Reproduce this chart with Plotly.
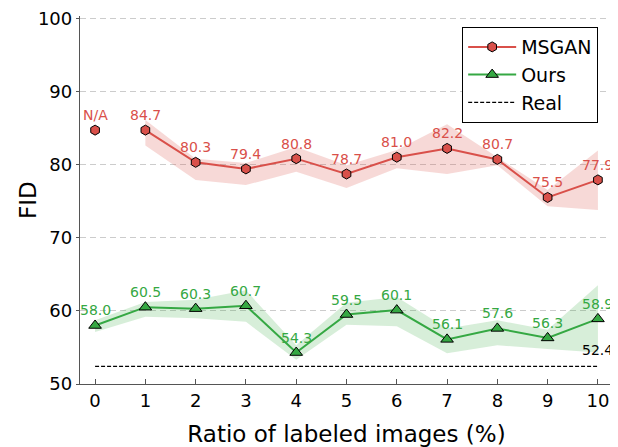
import plotly.graph_objects as go

ratios = [0, 1, 2, 3, 4, 5, 6, 7, 8, 9, 10]
msgan = [84.7, 84.7, 80.3, 79.4, 80.8, 78.7, 81.0, 82.2, 80.7, 75.5, 77.9]
msgan_labels = ["N/A", "84.7", "80.3", "79.4", "80.8", "78.7", "81.0", "82.2", "80.7", "75.5", "77.9"]
msgan_upper = [86.1, 80.8, 80.2, 82.4, 79.9, 82.0, 85.5, 81.0, 76.5, 81.9]  # x = 1..10
msgan_lower = [82.6, 77.9, 77.2, 79.0, 76.8, 79.5, 78.7, 79.9, 74.3, 73.8]
ours = [58.0, 60.5, 60.3, 60.7, 54.3, 59.5, 60.1, 56.1, 57.6, 56.3, 58.9]
ours_upper = [58.7, 61.2, 61.5, 62.8, 55.3, 61.1, 61.9, 57.6, 58.7, 57.4, 63.5]
ours_lower = [57.1, 59.2, 59.0, 58.5, 53.3, 58.1, 57.9, 54.2, 55.3, 54.8, 54.3]
real = 52.4
yticks = [50, 60, 70, 80, 90, 100]

RED = "#d9504a"
GREEN = "#35a843"
FONT = "DejaVu Sans"

fig = go.Figure()

# bands
mx = ratios[1:]
fig.add_trace(go.Scatter(x=mx + mx[::-1], y=msgan_upper + msgan_lower[::-1], fill="toself",
                         fillcolor="rgba(217,80,74,0.22)", line=dict(width=0), mode="lines",
                         hoverinfo="skip", showlegend=False))
fig.add_trace(go.Scatter(x=ratios + ratios[::-1], y=ours_upper + ours_lower[::-1], fill="toself",
                         fillcolor="rgba(53,168,67,0.2)", line=dict(width=0), mode="lines",
                         hoverinfo="skip", showlegend=False))

# real line
fig.add_trace(go.Scatter(x=[ratios[0], ratios[-1]], y=[real, real], mode="lines", legendrank=3,
                         line=dict(color="black", width=1.3, dash="4px,2px"), name="Real"))

# MSGAN x=0 isolated point
fig.add_trace(go.Scatter(x=ratios[:1], y=msgan[:1], mode="markers",
                         marker=dict(symbol="hexagon", size=10, color=RED, line=dict(color="black", width=1)),
                         showlegend=False, hoverinfo="skip"))
fig.add_trace(go.Scatter(x=ratios[1:], y=msgan[1:], mode="lines+markers", name="MSGAN", legendrank=1,
                         line=dict(color=RED, width=2),
                         marker=dict(symbol="hexagon", size=10, color=RED, line=dict(color="black", width=1))))
fig.add_trace(go.Scatter(x=ratios, y=ours, mode="lines+markers", name="Ours", legendrank=2,
                         line=dict(color=GREEN, width=2),
                         marker=dict(symbol="triangle-up", size=11, color=GREEN, line=dict(color="black", width=1))))

# value labels
annotations = []
for x, y, t in zip(ratios, msgan, msgan_labels):
    annotations.append(dict(x=x, y=y, text=t, showarrow=False, yshift=15,
                            font=dict(color=RED, size=14, family=FONT)))
for x, y in zip(ratios, ours):
    annotations.append(dict(x=x, y=y, text=f"{y:.1f}", showarrow=False, yshift=15,
                            font=dict(color=GREEN, size=14, family=FONT)))
annotations.append(dict(x=ratios[-1], y=real, text=f"{real:.1f}", showarrow=False, yshift=16,
                        font=dict(color="black", size=14, family=FONT)))
# y-axis title
annotations.append(dict(xref="paper", yref="paper", x=0, y=0.5, xanchor="center", yanchor="middle",
                        xshift=-52, text="FID", textangle=-90, showarrow=False,
                        font=dict(color="black", size=23, family=FONT)))

fig.update_layout(
    width=618, height=447,
    margin=dict(l=72, r=13, t=8, b=71, autoexpand=False),
    plot_bgcolor="white", paper_bgcolor="white",
    font=dict(family=FONT, color="black", size=18),
    annotations=annotations,
    legend=dict(x=0.717, y=0.97, xanchor="left", yanchor="top", bordercolor="black", borderwidth=1,
                bgcolor="white", font=dict(size=19, family=FONT), traceorder="normal",
                itemwidth=48),
    showlegend=True,
)
fig.update_xaxes(range=[-0.3, 10.3], tickvals=ratios, ticktext=[str(r) for r in ratios],
                 showgrid=False, zeroline=False, showline=True, linecolor="#555", linewidth=1.3,
                 ticks="inside", ticklen=5, tickcolor="#555", automargin=False,
                 tickfont=dict(size=18, family=FONT), ticklabeloverflow="allow",
                 title=dict(text="Ratio of labeled images (%)", font=dict(size=23, family=FONT), standoff=16))
fig.update_yaxes(range=[50, 100.3], tickvals=yticks, ticktext=[str(v) for v in yticks],
                 showgrid=True, gridcolor="#cccccc", griddash="6px,4px", gridwidth=1,
                 zeroline=False, showline=True, linecolor="#555", linewidth=1.3,
                 ticks="outside", ticklen=3, tickcolor="#555", automargin=False,
                 tickfont=dict(size=18, family=FONT), ticklabeloverflow="allow")

fig.write_html("out.html")
